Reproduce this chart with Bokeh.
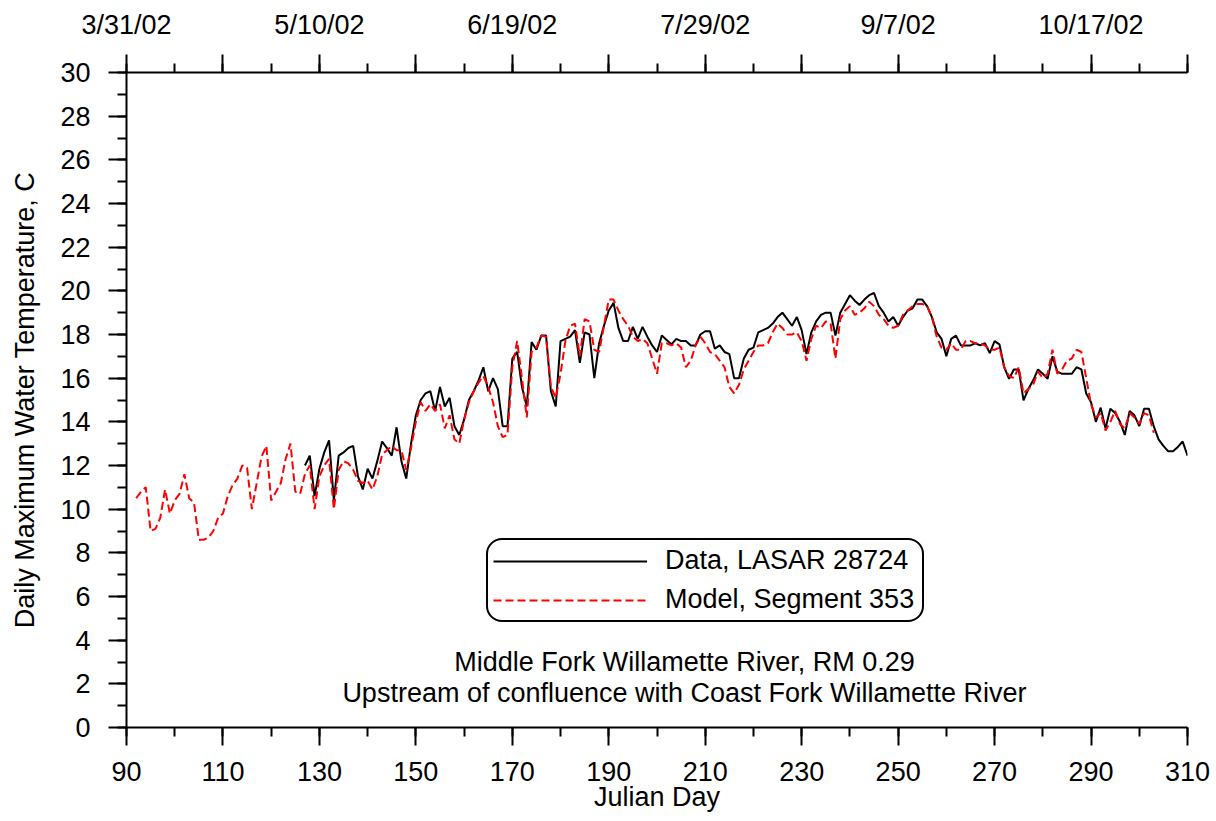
from bokeh.plotting import figure
from bokeh.models import Range1d, LinearAxis, FixedTicker, Legend, LegendItem, Label
from bokeh.embed import file_html
from bokeh.resources import INLINE

# ---- data ----
model_start_day = 92
model_temp = [
    10.5, 10.8, 11.0, 9.0, 9.1, 9.6, 10.9, 9.8, 10.4, 10.7,          # 92-101
    11.6, 10.5, 10.3, 8.6, 8.6, 8.7, 9.0, 9.6, 9.8, 10.6,            # 102-111
    11.1, 11.4, 12.0, 11.9, 10.0, 11.2, 12.4, 12.9, 10.4, 10.8,      # 112-121
    11.2, 12.3, 13.0, 10.8, 10.7, 11.6, 12.0, 10.0, 11.5, 12.0,      # 122-131
    12.3, 10.0, 11.8, 12.2, 12.1, 11.8, 11.3, 11.2, 11.3, 10.9,      # 132-141
    11.5, 12.5, 12.7, 12.9, 12.7, 12.7, 11.8, 12.8, 14.0, 14.9,      # 142-151
    14.5, 14.8, 14.5, 14.8, 13.7, 14.3, 13.2, 13.0, 14.1, 14.9,      # 152-161
    15.4, 15.8, 16.1, 15.6, 14.9, 13.8, 13.3, 13.4, 16.5, 17.7,      # 162-171
    16.0, 14.2, 17.2, 17.4, 17.95, 17.9, 15.6, 15.1, 16.2, 17.7,     # 172-181
    18.4, 18.5, 17.0, 18.7, 18.6, 17.3, 17.2, 18.4, 19.6, 19.6,      # 182-191
    19.1, 18.7, 18.4, 17.9, 17.7, 17.8, 17.6, 16.9, 16.2, 17.6,      # 192-201
    17.6, 17.5, 17.6, 17.4, 16.5, 16.8, 17.5, 17.9, 17.6, 17.2,      # 202-211
    17.1, 16.8, 16.5, 15.6, 15.3, 15.7, 16.4, 16.8, 17.2, 17.5,      # 212-221
    17.5, 17.6, 18.1, 18.5, 18.3, 18.0, 18.0, 18.1, 17.7, 16.8,      # 222-231
    17.8, 18.4, 18.3, 18.6, 18.5, 16.9, 18.7, 19.1, 19.3, 18.9,      # 232-241
    19.0, 19.2, 19.5, 19.3, 18.9, 18.7, 18.4, 18.3, 18.4, 18.9,      # 242-251
    19.1, 19.3, 19.4, 19.4, 19.3, 18.8, 17.9, 17.4, 17.3, 17.6,      # 252-261
    17.3, 17.3, 17.7, 17.7, 17.6, 17.6, 17.5, 17.3, 17.3, 17.4,      # 262-271
    16.5, 16.1, 16.0, 16.5, 15.3, 15.5, 15.7, 16.3, 16.0, 16.2,      # 272-281
    17.3, 16.2, 16.4, 16.8, 16.9, 17.3, 17.2, 16.0, 14.8, 14.2,      # 282-291
    14.4, 13.6, 14.0, 14.5, 13.9, 13.7, 14.4, 14.2, 13.9, 14.4,      # 292-301
    14.3, 13.5,                                                      # 302-303
]

data_start_day = 127
data_temp = [
    12.0, 12.45, 10.6, 11.85, 12.6, 13.15, 10.4, 12.45, 12.6, 12.8,  # 127-136
    12.9, 11.5, 10.9, 11.85, 11.4, 12.2, 13.1, 12.8, 12.45, 13.75,   # 137-146
    12.2, 11.4, 13.0, 14.3, 15.0, 15.3, 15.4, 14.5, 15.6, 14.7,      # 147-156
    15.1, 13.8, 13.4, 14.1, 15.0, 15.4, 15.9, 16.5, 15.4, 16.0,      # 157-166
    15.5, 13.8, 13.8, 16.9, 17.2, 15.6, 14.7, 17.65, 17.3, 17.95,    # 167-176
    17.95, 15.4, 14.7, 17.7, 17.8, 17.9, 18.2, 16.7, 18.1, 18.0,     # 177-186
    16.0, 17.6, 18.4, 19.1, 19.45, 18.3, 17.7, 17.7, 18.35, 17.8,    # 187-196
    18.35, 17.9, 17.5, 17.2, 17.95, 17.75, 17.55, 17.8, 17.7, 17.7,  # 197-206
    17.5, 17.5, 18.0, 18.15, 18.15, 17.35, 17.5, 17.2, 17.1, 16.0,   # 207-216
    16.0, 16.9, 17.3, 17.4, 18.1, 18.2, 18.3, 18.5, 18.8, 19.0,      # 217-226
    18.7, 18.4, 18.8, 18.2, 17.1, 18.1, 18.6, 18.9, 19.0, 19.0,      # 227-236
    17.95, 19.0, 19.4, 19.8, 19.55, 19.35, 19.6, 19.8, 19.9, 19.3,   # 237-246
    19.0, 18.6, 18.8, 18.4, 18.8, 19.1, 19.2, 19.6, 19.6, 19.3,      # 247-256
    18.8, 18.1, 17.8, 17.0, 17.8, 17.95, 17.5, 17.5, 17.5, 17.6,     # 257-266
    17.5, 17.6, 17.15, 17.7, 17.55, 16.5, 15.97, 16.4, 16.4, 14.98,  # 267-276
    15.5, 15.9, 16.4, 16.2, 15.97, 17.0, 16.3, 16.2, 16.2, 16.2,     # 277-286
    16.5, 16.4, 15.3, 14.9, 14.0, 14.65, 13.7, 14.6, 14.4, 14.0,     # 287-296
    13.4, 14.5, 14.3, 13.8, 14.6, 14.6, 13.8, 13.2, 12.9, 12.65,     # 297-306
    12.65, 12.85, 13.1, 12.45,                                       # 307-310
]

model_days = list(range(model_start_day, model_start_day + len(model_temp)))
data_days = list(range(data_start_day, data_start_day + len(data_temp)))

x_major = list(range(90, 311, 20))
x_minor = list(range(90, 311, 10))
y_major = list(range(0, 31, 2))
y_minor = list(range(0, 31, 1))

top_label_days = [90, 130, 170, 210, 250, 290]
top_labels = ["3/31/02", "5/10/02", "6/19/02", "7/29/02", "9/7/02", "10/17/02"]

series_names = ["Data, LASAR 28724", "Model, Segment 353"]
note_lines = ["Middle Fork Willamette River, RM 0.29",
              "Upstream of confluence with Coast Fork Willamette River"]

FONT = "Liberation Sans"
FS = "27px"

p = figure(width=1212, height=819, output_backend="svg", toolbar_location=None,
           x_range=Range1d(90, 310), y_range=Range1d(0, 30),
           min_border_left=126, min_border_right=25, min_border_top=72, min_border_bottom=92)
p.outline_line_color = None
p.xgrid.visible = False
p.ygrid.visible = False
p.background_fill_color = "white"
p.border_fill_color = "white"

xb = p.below[0]
yl = p.left[0]
top_axis = LinearAxis()
p.add_layout(top_axis, "above")


def style_axis(ax):
    ax.axis_line_width = 2
    ax.axis_line_color = "black"
    ax.major_tick_line_width = 2
    ax.minor_tick_line_width = 2
    ax.major_tick_line_color = "black"
    ax.minor_tick_line_color = "black"
    ax.major_tick_in = 0
    ax.major_tick_out = 18
    ax.minor_tick_in = 0
    ax.minor_tick_out = 9
    ax.major_label_text_font = FONT
    ax.major_label_text_font_size = FS
    ax.major_label_text_color = "black"
    ax.axis_label_text_font = FONT
    ax.axis_label_text_font_size = FS
    ax.axis_label_text_font_style = "normal"
    ax.axis_label_text_color = "black"


for ax in (xb, yl, top_axis):
    style_axis(ax)

xb.ticker = FixedTicker(ticks=x_major, minor_ticks=x_minor)
xb.axis_label = "Julian Day"
xb.major_label_standoff = 16
xb.axis_label_standoff = -2

top_axis.ticker = FixedTicker(ticks=x_major, minor_ticks=x_minor)
overrides = {d: "" for d in x_major}
for d, lab in zip(top_label_days, top_labels):
    overrides[d] = lab
top_axis.major_label_overrides = overrides
top_axis.major_label_standoff = 15

yl.ticker = FixedTicker(ticks=y_major, minor_ticks=y_minor)
yl.axis_label = "Daily Maximum Water Temperature, C"
yl.major_label_standoff = 18
yl.axis_label_standoff = 17

r_data = p.line(data_days, data_temp, line_color="black", line_width=2)
r_model = p.line(model_days, model_temp, line_color="red", line_width=2, line_dash="8 4")

legend = Legend(items=[LegendItem(label=series_names[0], renderers=[r_data]),
                       LegendItem(label=series_names[1], renderers=[r_model])],
                location=(360, 105))
legend.label_text_font = FONT
legend.label_text_font_size = FS
legend.label_text_color = "black"
legend.glyph_width = 154
legend.glyph_height = 30
legend.label_height = 30
legend.label_width = 252
legend.label_standoff = 18
legend.spacing = 8
legend.padding = 5
legend.margin = 0
legend.border_line_color = "black"
legend.border_line_alpha = 1.0
legend.border_line_width = 2
legend.background_fill_color = "white"
legend.background_fill_alpha = 1.0
if "border_radius" in Legend.properties():
    legend.border_radius = 16
p.add_layout(legend)

p.add_layout(Label(x=205.7, y=2.98, text=note_lines[0], text_align="center", text_baseline="middle",
                   text_font=FONT, text_font_size=FS, text_color="black"))
p.add_layout(Label(x=205.7, y=1.56, text=note_lines[1], text_align="center", text_baseline="middle",
                   text_font=FONT, text_font_size=FS, text_color="black"))

open("out.html", "w").write(file_html(p, INLINE))
